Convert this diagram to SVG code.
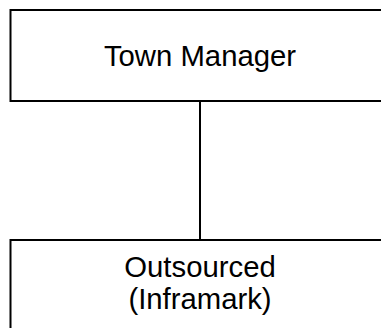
<svg xmlns="http://www.w3.org/2000/svg" width="381" height="328" viewBox="0 0 381 328">
<style>
.box{fill:#fff;stroke:#000;stroke-width:2}
.lbl{font-family:"Liberation Sans",Arial,sans-serif;font-size:29.3px;fill:#000;text-anchor:middle}
.conn{stroke:#000;stroke-width:2;fill:none}
</style>
<rect width="381" height="328" fill="#fff"/>
<g id="connectors">
<line class="conn" x1="200" y1="101" x2="200" y2="240"/>
</g>
<g id="town-manager">
<rect class="box" x="10.5" y="10" width="400" height="91"/>
<text class="lbl" x="200" y="66">Town Manager</text>
</g>
<g id="outsourced">
<rect class="box" x="10.5" y="240" width="400" height="120"/>
<text class="lbl" x="200" y="277">Outsourced</text>
<text class="lbl" x="200" y="309">(Inframark)</text>
</g>
</svg>
